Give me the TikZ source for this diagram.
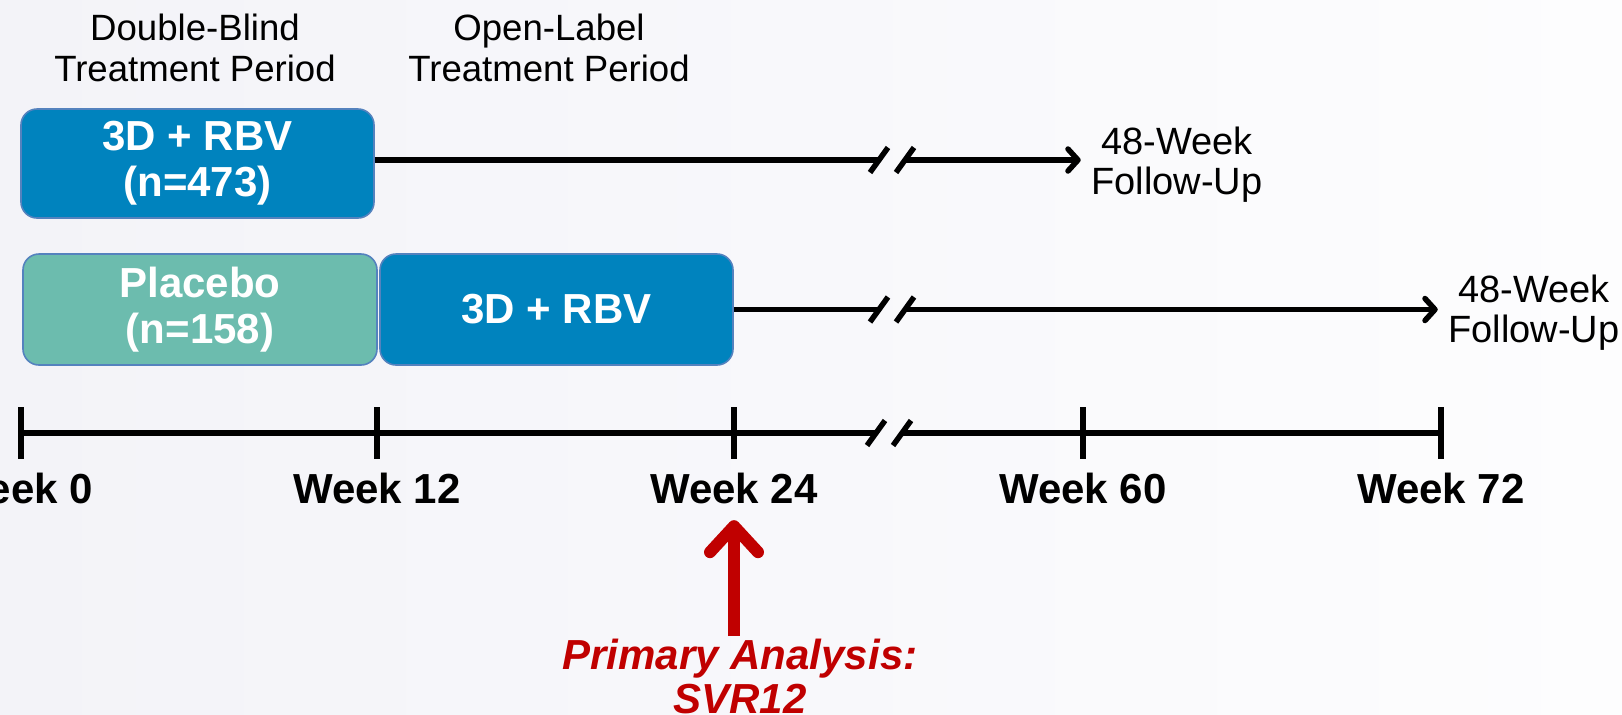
\documentclass[tikz,border=0pt]{standalone}
\usepackage{fontspec}
\setmainfont{Liberation Sans}
\usetikzlibrary{arrows.meta}

\definecolor{armblue}{RGB}{0,131,190}
\definecolor{placebogreen}{RGB}{108,188,174}
\definecolor{boxedge}{RGB}{84,130,190}
\definecolor{svrred}{RGB}{192,0,0}
\definecolor{bgleft}{RGB}{243,243,248}
\definecolor{bgright}{RGB}{253,253,254}

\tikzset{every picture/.style={line width=2.75pt}}
\tikzset{
  armbox/.style={draw=boxedge, line width=0.8pt, rounded corners=8pt, text=white,
    font=\fontsize{21}{23}\selectfont\bfseries, align=center, inner sep=0pt},
  period/.style={font=\fontsize{18.3}{20.5}\selectfont, align=center, inner sep=0pt},
  followup/.style={font=\fontsize{19}{20}\selectfont, align=center, inner sep=4pt},
  weeklabel/.style={font=\fontsize{21}{24}\selectfont\bfseries, anchor=base, inner sep=1pt},
  armline/.style={-{Straight Barb[length=5pt,width=11pt,round]}},
  svrarrow/.style={svrred, line width=6pt, -{Straight Barb[length=13pt,width=24pt,round]}},
}
% two slashes that cut a line at (x,y)
\newcommand\gapmark[2]{%
  \draw (#1-22,#2+12.5) -- ++(18,-25);
  \draw (#1+4,#2+12.5) -- ++(18,-25);}

\begin{document}
\begin{tikzpicture}[x=0.5pt,y=0.5pt,yscale=-1]
%Background
\shade[left color=bgleft, right color=bgright] (0,0) rectangle (1622,714);
\useasboundingbox (0,0) rectangle (1622,714);

% Text Node
\node[period] (dbhead) at (195,48) {Double-Blind\\Treatment Period};
% Text Node
\node[period] (olhead) at (549,48) {Open-Label\\Treatment Period};

%Shape: Rounded Rect
\node[armbox, fill=armblue, minimum width=176.5pt, minimum height=54.5pt] (arm1) at (197.5,163.5) {3D + RBV\\(n=473)};
%Shape: Rounded Rect
\node[armbox, fill=placebogreen, minimum width=177pt, minimum height=55.5pt] (pbo) at (200,309.5) {Placebo\\(n=158)};
%Shape: Rounded Rect
\node[armbox, fill=armblue, minimum width=176.5pt, minimum height=55.5pt] (arm2) at (556.5,309.5) {3D + RBV};

% Text Node
\node[followup] (fu1) at (1177,165) {48-Week\\Follow-Up};
% Text Node
\node[followup] (fu2) at (1534,313) {48-Week\\Follow-Up};

%Straight Lines
\coordinate (gap1l) at (879,160);
\coordinate (gap1r) at (905,160);
\draw (arm1.east |- gap1l) -- (gap1l);
\gapmark{892}{160}
\draw[armline] (gap1r) -- (fu1.west |- gap1r);

%Straight Lines
\coordinate (gap2l) at (879,309.5);
\coordinate (gap2r) at (905,309.5);
\draw (arm2.east) -- (gap2l);
\gapmark{892}{309.5}
\draw[armline] (gap2r) -- (fu2.west |- gap2r);

%Timeline
\coordinate (t0) at (21,433);
\coordinate (t72) at (1441,433);
\coordinate (gap3l) at (876,433);
\coordinate (gap3r) at (902,433);
\draw (t0) -- (gap3l);
\gapmark{889}{433}
\draw (gap3r) -- (t72);
\foreach \x/\wk in {21/0,377/12,734/24,1083/60,1441/72}{
  \draw (\x,407) -- (\x,459);
  \node[weeklabel] (w\wk) at (\x,503) {Week \wk};
}

% Text Node
\node[font=\fontsize{21}{22}\selectfont\bfseries\itshape, text=svrred, align=center, inner sep=0pt, anchor=north] (pa) at (740,636) {Primary Analysis:\\SVR12};
%Arrow
\draw[svrarrow, shorten >=6pt] (pa.north -| w24.south) -- (w24.south);

\end{tikzpicture}
\end{document}
